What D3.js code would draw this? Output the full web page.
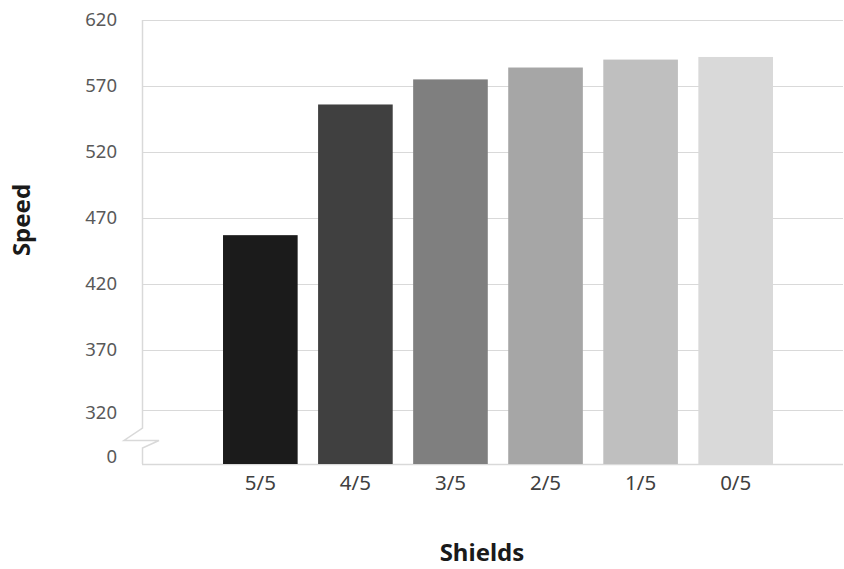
<!DOCTYPE html>
<html>
<head>
<meta charset="utf-8">
<script src="https://cdn.jsdelivr.net/npm/d3@7"></script>
<style>
  html, body { margin: 0; padding: 0; background: #ffffff; }
  svg { display: block; font-family: "Noto Sans", "Open Sans", sans-serif; }
</style>
</head>
<body>
<svg id="chart" width="844" height="569"></svg>
<script>
const categories = ["5/5", "4/5", "3/5", "2/5", "1/5", "0/5"];
const speeds = [457, 556, 575, 584, 590, 592];
const barColors = ["#1b1b1b", "#404040", "#7f7f7f", "#a6a6a6", "#bfbfbf", "#d9d9d9"];
const yTicks = [0, 320, 370, 420, 470, 520, 570, 620];
const xTitle = "Shields";
const yTitle = "Speed";

const svg = d3.select("#chart");
const plotLeft = 142, plotRight = 843;

// broken axis: 0 .. 320 compressed, 320 .. 620 linear
const y = d3.scaleLinear()
  .domain([0, 320, 370, 620])
  .range([464, 410, 350, 20]);

const x = d3.scaleBand()
  .domain(categories)
  .range([212.8, 783.2])
  .paddingInner(0.215)
  .paddingOuter(0.1075);

const grid = "#d9d9d9";

// gridlines (except the 0 baseline)
svg.append("g")
  .selectAll("line")
  .data(yTicks.filter(d => d !== 0))
  .join("line")
  .attr("x1", plotLeft).attr("x2", plotRight)
  .attr("y1", d => Math.round(y(d)) + 0.5).attr("y2", d => Math.round(y(d)) + 0.5)
  .attr("stroke", grid).attr("stroke-width", 1);

// baseline
svg.append("line")
  .attr("x1", plotLeft).attr("x2", plotRight)
  .attr("y1", Math.round(y(0)) + 0.5).attr("y2", Math.round(y(0)) + 0.5)
  .attr("stroke", grid).attr("stroke-width", 1.5);

// vertical axis line with break zigzag
const yBreakTop = 428;
const yMid = 440.5;
const yBreakBot = 448;
const axisPath = d3.path();
axisPath.moveTo(plotLeft + 0.5, y(620));
axisPath.lineTo(plotLeft + 0.5, yBreakTop);
axisPath.lineTo(plotLeft - 18, yMid);
axisPath.lineTo(plotLeft + 17, yMid);
axisPath.lineTo(plotLeft + 0.5, yBreakBot);
axisPath.lineTo(plotLeft + 0.5, y(0));
svg.append("path")
  .attr("d", axisPath.toString())
  .attr("fill", "none")
  .attr("stroke", grid)
  .attr("stroke-width", 1.5);

// bars
svg.append("g")
  .selectAll("rect")
  .data(categories.map((c, i) => ({c, v: speeds[i], col: barColors[i]})))
  .join("rect")
  .attr("x", d => x(d.c))
  .attr("width", x.bandwidth())
  .attr("y", d => y(d.v))
  .attr("height", d => y(0) - y(d.v))
  .attr("fill", d => d.col);

// y tick labels
svg.append("g")
  .selectAll("text")
  .data(yTicks)
  .join("text")
  .attr("x", 117)
  .attr("y", d => d === 0 ? y(0) - 7 : (d === 320 ? y(d) + 3 : y(d)))
  .attr("dy", "0.35em")
  .attr("text-anchor", "end")
  .attr("font-size", 18.5)
  .attr("fill", "#595959")
  .text(d => d);

// x tick labels
svg.append("g")
  .selectAll("text")
  .data(categories)
  .join("text")
  .attr("x", d => x(d) + x.bandwidth() / 2)
  .attr("y", 483)
  .attr("dy", "0.35em")
  .attr("text-anchor", "middle")
  .attr("font-size", 20.5)
  .attr("fill", "#404040")
  .text(d => d);

// axis titles
svg.append("text")
  .attr("x", 482)
  .attr("y", 553)
  .attr("dy", "0.35em")
  .attr("text-anchor", "middle")
  .attr("font-size", 24)
  .attr("font-weight", "bold")
  .attr("fill", "#1a1a1a")
  .text(xTitle);

svg.append("text")
  .attr("transform", "translate(22,220) rotate(-90)")
  .attr("dy", "0.35em")
  .attr("text-anchor", "middle")
  .attr("font-size", 24)
  .attr("font-weight", "bold")
  .attr("fill", "#1a1a1a")
  .text(yTitle);
</script>
</body>
</html>
